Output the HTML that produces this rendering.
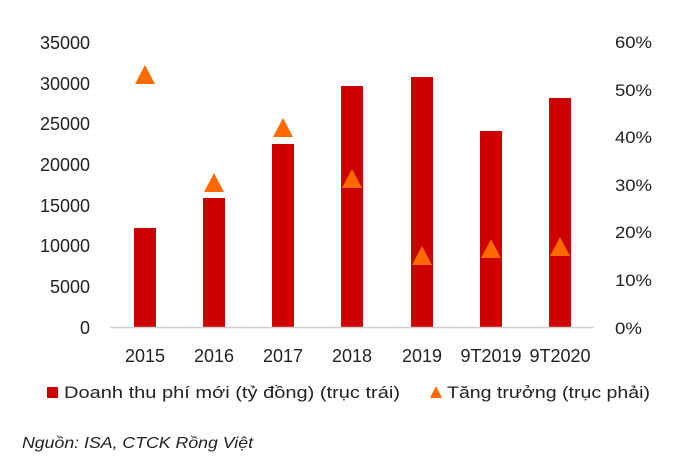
<!DOCTYPE html>
<html><head><meta charset="utf-8"><style>body{margin:0;background:#fff}svg{display:block}</style></head><body>
<svg width="674" height="464" xmlns="http://www.w3.org/2000/svg" font-family="Liberation Sans, sans-serif" fill="#222">
<g font-size="18" text-anchor="end">
<text x="90" y="49">35000</text><text x="90" y="90">30000</text><text x="90" y="130">25000</text><text x="90" y="171">20000</text><text x="90" y="212">15000</text><text x="90" y="252">10000</text><text x="90" y="293">5000</text><text x="90" y="334">0</text>
</g>
<g font-size="17">
<text x="615" y="48" textLength="37" lengthAdjust="spacingAndGlyphs">60%</text>
<text x="615" y="96" textLength="37" lengthAdjust="spacingAndGlyphs">50%</text>
<text x="615" y="143" textLength="37" lengthAdjust="spacingAndGlyphs">40%</text>
<text x="615" y="191" textLength="37" lengthAdjust="spacingAndGlyphs">30%</text>
<text x="615" y="238" textLength="37" lengthAdjust="spacingAndGlyphs">20%</text>
<text x="615" y="286" textLength="37" lengthAdjust="spacingAndGlyphs">10%</text>
<text x="615" y="334" textLength="27" lengthAdjust="spacingAndGlyphs">0%</text>
</g>
<g fill="#cc0000">
<rect x="134" y="228" width="22" height="99"/>
<rect x="203" y="198" width="22" height="129"/>
<rect x="272" y="144" width="22" height="183"/>
<rect x="341" y="86" width="22" height="241"/>
<rect x="411" y="77" width="22" height="250"/>
<rect x="480" y="131" width="22" height="196"/>
<rect x="549" y="98" width="22" height="229"/>
</g>
<line x1="110" y1="327.5" x2="594" y2="327.5" stroke="#d0d0d0" stroke-width="1.5"/>
<g fill="#ff6a00">
<polygon points="145,65 135,84 155,84"/>
<polygon points="214,173 204,192 224,192"/>
<polygon points="283,118 273,137 293,137"/>
<polygon points="352,169 342,188 362,188"/>
<polygon points="422,246 412,265 432,265"/>
<polygon points="491,239 481,258 501,258"/>
<polygon points="560,237 550,256 570,256"/>
</g>
<g font-size="18" text-anchor="middle">
<text x="145" y="362">2015</text><text x="214" y="362">2016</text><text x="283" y="362">2017</text><text x="352" y="362">2018</text><text x="422" y="362">2019</text><text x="491" y="362">9T2019</text><text x="560" y="362">9T2020</text>
</g>
<rect x="47" y="387" width="11" height="11" fill="#cc0000"/>
<text x="64" y="398" font-size="17" textLength="336" lengthAdjust="spacingAndGlyphs">Doanh thu phí mới (tỷ đồng) (trục trái)</text>
<polygon points="436,386 430,398 442,398" fill="#ff6a00"/>
<text x="447" y="398" font-size="17" textLength="203" lengthAdjust="spacingAndGlyphs">Tăng trưởng (trục phải)</text>
<text x="22" y="448" font-size="16" font-style="italic" textLength="231" lengthAdjust="spacingAndGlyphs">Nguồn: ISA, CTCK Rồng Việt</text>
</svg>
</body></html>
